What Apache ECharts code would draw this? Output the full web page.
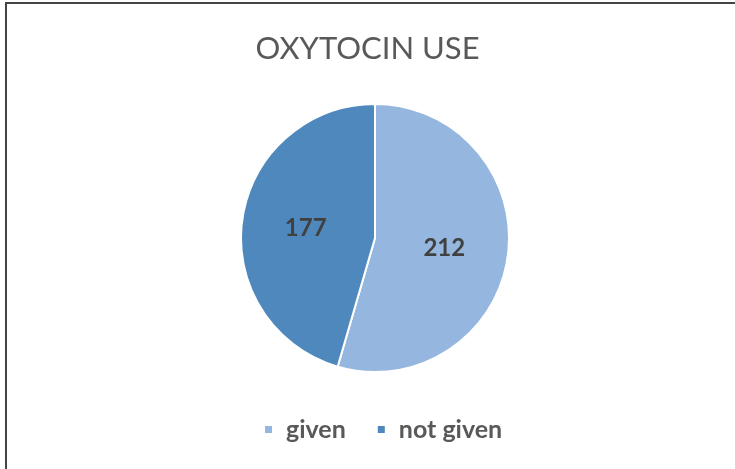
<!DOCTYPE html>
<html>
<head>
<meta charset="utf-8">
<script src="https://cdn.jsdelivr.net/npm/echarts@6/dist/echarts.min.js"></script>
<style>html,body{margin:0;padding:0;background:#fff;}#c{width:735px;height:469px;}</style>
</head>
<body>
<div id="c"></div>
<script>
const categories = ["given", "not given"];
const values = [212, 177];
const colors = ["#95b7df", "#4f88bd"];
const titleText = "OXYTOCIN USE";

const chart = echarts.init(document.getElementById('c'), null, {renderer: 'canvas'});
chart.setOption({
  animation: false,
  backgroundColor: '#fff',
  title: {
    text: titleText,
    left: 'center',
    top: 28,
    textStyle: {fontFamily: 'Lato', fontSize: 31, fontWeight: 'normal', color: '#595959'}
  },
  legend: {
    data: categories,
    bottom: 22,
    left: 258,
    icon: 'rect',
    itemWidth: 9,
    itemHeight: 9,
    itemGap: 30,
    textStyle: {fontFamily: 'Lato', fontSize: 25, fontWeight: 'bold', color: '#595959', padding: [0, 0, 0, 8]}
  },
  graphic: [
    {type: 'line', shape: {x1: 6, y1: 2, x2: 6, y2: 469}, style: {stroke: '#444', lineWidth: 2}},
    {type: 'line', shape: {x1: 5, y1: 3, x2: 735, y2: 3}, style: {stroke: '#444', lineWidth: 2}}
  ],
  series: [{
    type: 'pie',
    center: [375, 238],
    radius: 134,
    startAngle: 90,
    clockwise: true,
    data: categories.map((c, i) => ({name: c, value: values[i], itemStyle: {color: colors[i]}})),
    itemStyle: {borderColor: '#fff', borderWidth: 2},
    label: {
      position: 'inside',
      formatter: '{c}',
      fontFamily: 'Lato',
      fontSize: 24,
      fontWeight: 'bold',
      color: '#404040'
    },
    labelLine: {show: false},
    emphasis: {disabled: true}
  }]
});
</script>
</body>
</html>
